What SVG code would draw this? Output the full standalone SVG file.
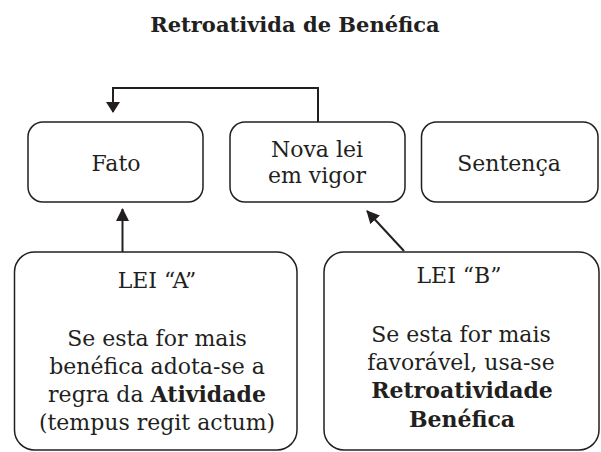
<svg xmlns="http://www.w3.org/2000/svg" width="601" height="452" viewBox="0 0 601 452">
<defs>
<style>
.box{fill:#fff;stroke:#231f20;stroke-width:1.5}
.t{font-family:"DejaVu Serif","Liberation Serif",serif;font-size:22px;fill:#231f20;text-anchor:middle}
.b{font-weight:bold}
.ttl{font-family:"DejaVu Serif","Liberation Serif",serif;font-size:21px;font-weight:bold;fill:#231f20;text-anchor:middle}
.ln{fill:none;stroke:#231f20;stroke-width:2}
</style>
<marker id="ah" viewBox="0 0 11 14" refX="10" refY="7" markerWidth="11" markerHeight="14" markerUnits="userSpaceOnUse" orient="auto">
<path d="M0,0 L11,7 L0,14 Z" fill="#231f20"/>
</marker>
<marker id="ah2" viewBox="0 0 13 13" refX="12" refY="6.5" markerWidth="13" markerHeight="13" markerUnits="userSpaceOnUse" orient="auto">
<path d="M0,0 L13,6.5 L0,13 Z" fill="#231f20"/>
</marker>
</defs>
<rect width="601" height="452" fill="#fff"/>
<text class="ttl" x="295" y="32">Retroativida de Benéfica</text>
<g id="connectors">
<path class="ln" d="M318,122 V88 H113 V112" marker-end="url(#ah)"/>
<path class="ln" d="M122.5,252 V209" marker-end="url(#ah2)"/>
<path class="ln" d="M404,251 L367,211" marker-end="url(#ah2)"/>
</g>
<g id="fato">
<rect class="box" x="28" y="122" width="175" height="80" rx="15"/>
<text class="t" x="116" y="171">Fato</text>
</g>
<g id="nova-lei">
<rect class="box" x="230" y="122" width="175" height="80" rx="15"/>
<text class="t" x="317" y="157">Nova lei</text>
<text class="t" x="317" y="183">em vigor</text>
</g>
<g id="sentenca">
<rect class="box" x="421.5" y="122" width="176.5" height="80" rx="15"/>
<text class="t" x="509" y="171">Sentença</text>
</g>
<g id="lei-a">
<rect class="box" x="14.5" y="252" width="282.5" height="198" rx="20"/>
<text class="t" x="157" y="288">LEI “A”</text>
<text class="t" x="157" y="346">Se esta for mais</text>
<text class="t" x="157" y="374">benéfica adota-se a</text>
<text class="t" x="157" y="402">regra da <tspan class="b">Atividade</tspan></text>
<text class="t" x="157" y="430">(tempus regit actum)</text>
</g>
<g id="lei-b">
<rect class="box" x="324" y="252" width="275" height="198" rx="20"/>
<text class="t" x="459" y="283">LEI “B”</text>
<text class="t" x="461" y="342">Se esta for mais</text>
<text class="t" x="461" y="370">favorável, usa-se</text>
<text class="t b" x="462" y="398">Retroatividade</text>
<text class="t b" x="462" y="427">Benéfica</text>
</g>
</svg>
